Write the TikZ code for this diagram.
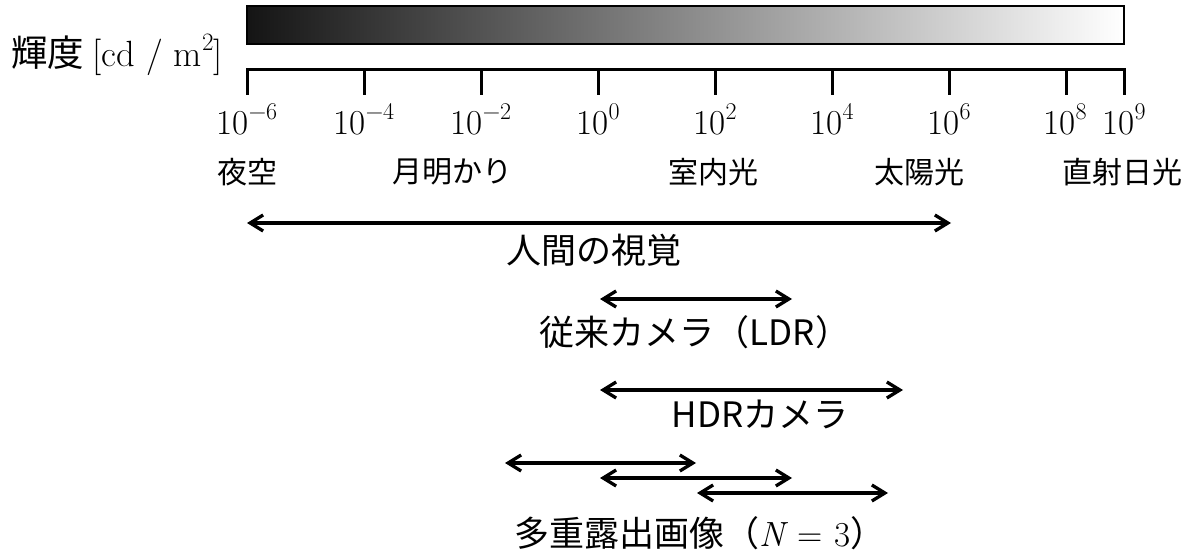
\documentclass[tikz,border=0pt]{standalone}
\usepackage[no-math]{fontspec}
\setmainfont{Noto Sans CJK JP}
\newfontfamily\lmser{Latin Modern Roman}
\newcommand\pw[1]{{\lmser 10\raisebox{0.43em}{\fontsize{24}{28}\selectfont #1}}}
\usetikzlibrary{arrows.meta}
\begin{document}
\begin{tikzpicture}[x=1pt,y=-1pt,
  lbl/.style={font=\fontsize{30}{36}\selectfont, inner sep=0pt},
  big/.style={font=\fontsize{35}{42}\selectfont, inner sep=0pt},
  num/.style={font=\fontsize{35}{42}\selectfont, inner sep=0pt, anchor=base},
  barb/.tip={Straight Barb[length=13pt,width=16pt]},
  rng/.style={line width=3.3pt, barb-barb},
  axisline/.style={line width=3pt, line join=miter}]
\useasboundingbox (0,0) rectangle (1194,556);
% gradient bar
\node[draw=black, line width=1.5pt, left color=black!92, right color=white,
      minimum width=877pt, minimum height=38pt, inner sep=0pt] (bar) at (685.5,25) {};
\node[big, font=\fontsize{36.5}{42}\selectfont] (unit) at (117,55) {輝度 {\lmser [cd / m\raisebox{0.43em}{\fontsize{25}{28}\selectfont 2}]}};
% axis
\coordinate (a0) at (247,95);
\coordinate (a1) at (247,70);
\coordinate (a2) at (1124.5,70);
\coordinate (a3) at (1124.5,95);
\draw[axisline] (a0) -- (a1) -- (a2) -- (a3);
\foreach \e/\n in {-4/b,-2/c,0/d,2/e,4/f,6/g,8/h}{
  \coordinate (t\n) at ({247+58.5*(\e+6)},70);
  \coordinate (u\n) at ({247+58.5*(\e+6)},95);
  \draw[axisline] (t\n) -- (u\n);
}
\node[num] (na) at (247,135) {\pw{−6}};
\node[num] (nb) at (364,135) {\pw{−4}};
\node[num] (nc) at (481,135) {\pw{−2}};
\node[num] (nd) at (598,135) {\pw{0}};
\node[num] (ne) at (715,135) {\pw{2}};
\node[num] (nf) at (832,135) {\pw{4}};
\node[num] (ng) at (949,135) {\pw{6}};
\node[num] (nh) at (1065,135) {\pw{8}};
\node[num] (ni) at (1124,135) {\pw{9}};
% category labels
\node[lbl] (yozora) at (247,172) {夜空};
\node[lbl] (tsuki) at (452,172) {月明かり};
\node[lbl] (shitsu) at (713,172) {室内光};
\node[lbl] (taiyo) at (919,172) {太陽光};
\node[lbl] (chokusha) at (1122,172) {直射日光};
% ranges
\coordinate (h1) at (247,223); \coordinate (h2) at (951,223);
\draw[rng] (h1) -- (h2);
\node[big] (human) at (594,250) {人間の視覚};
\coordinate (l1) at (600,299); \coordinate (l2) at (792,299);
\draw[rng] (l1) -- (l2);
\node[big] (ldr) at (695,332) {従来カメラ（LDR）};
\coordinate (d1) at (600,390); \coordinate (d2) at (903,390);
\draw[rng] (d1) -- (d2);
\node[big] (hdr) at (760,414) {HDRカメラ};
\coordinate (m1) at (505,463); \coordinate (m2) at (696,463);
\coordinate (m3) at (600,478); \coordinate (m4) at (792,478);
\coordinate (m5) at (697,493); \coordinate (m6) at (888,493);
\draw[rng] (m1) -- (m2);
\draw[rng] (m3) -- (m4);
\draw[rng] (m5) -- (m6);
\node[big] (multi) at (700,533) {多重露出画像（{\lmser\itshape N}{\lmser\hspace{0.35em}=\hspace{0.35em}3}）};
\end{tikzpicture}
\end{document}
